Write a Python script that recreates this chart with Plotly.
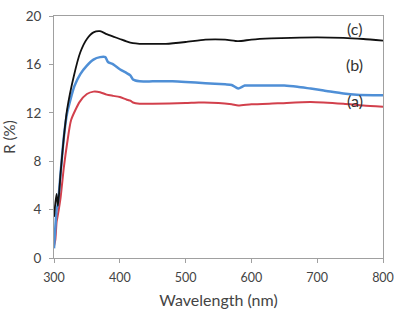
import plotly.graph_objects as go

wl_c = [300, 302, 304, 306, 310, 315, 320, 330, 340, 350, 360, 370, 380, 390, 400, 410, 420, 430, 450,
        470, 500, 530, 560, 580, 600, 630, 660, 700, 740, 770, 800]
r_c = [3.4, 4.5, 5.3, 4.3, 7.0, 10.0, 12.3, 15.0, 17.0, 18.1, 18.65, 18.75, 18.5, 18.3, 18.1, 17.9, 17.75,
       17.7, 17.7, 17.7, 17.85, 18.05, 18.05, 17.92, 18.05, 18.15, 18.2, 18.24, 18.2, 18.1, 17.96]

wl_b = [300, 302, 304, 306, 310, 315, 320, 331, 340, 350, 360, 370, 378, 382, 390, 400, 410, 416, 420,
        430, 450, 480, 500, 530, 560, 570, 580, 590, 600, 650, 670, 690, 710, 740, 760, 800]
r_b = [0.8, 2.5, 4.0, 4.5, 7.0, 10.0, 12.0, 14.2, 15.2, 15.9, 16.4, 16.6, 16.6, 16.2, 16.0, 15.6, 15.3,
       15.1, 14.75, 14.6, 14.6, 14.6, 14.55, 14.45, 14.35, 14.3, 14.0, 14.25, 14.25, 14.25, 14.15, 14.0,
       13.85, 13.6, 13.5, 13.45]

wl_a = [300, 302, 304, 306, 310, 315, 320, 326, 339, 350, 360, 370, 380, 390, 400, 410, 416, 420, 430,
        450, 500, 520, 550, 570, 580, 600, 640, 690, 740, 770, 800]
r_a = [1.0, 1.5, 3.0, 3.6, 5.0, 7.5, 9.5, 11.4, 12.9, 13.55, 13.75, 13.7, 13.5, 13.4, 13.3, 13.1, 13.0,
       12.85, 12.75, 12.75, 12.8, 12.85, 12.82, 12.7, 12.6, 12.7, 12.78, 12.9, 12.75, 12.6, 12.5]

labels = ["(c)", "(b)", "(a)"]
label_y = [18.95, 16.0, 13.0]

fig = go.Figure()
fig.add_trace(go.Scatter(x=wl_a, y=r_a, mode="lines", line=dict(color="#d2404c", width=2, shape="spline", smoothing=0.6), showlegend=False))
fig.add_trace(go.Scatter(x=wl_b, y=r_b, mode="lines", line=dict(color="#4f8fd6", width=2.5, shape="spline", smoothing=0.6), showlegend=False))
fig.add_trace(go.Scatter(x=wl_c, y=r_c, mode="lines", line=dict(color="#111111", width=1.8, shape="spline", smoothing=0.6), showlegend=False))

for t, yv in zip(labels, label_y):
    fig.add_annotation(x=757, y=yv, text=t, showarrow=False, xanchor="center", yanchor="middle",
                       font=dict(family="Lato", size=16, color="#333333"))

fig.update_layout(
    width=394, height=317,
    margin=dict(l=54, r=11, t=16, b=59),
    paper_bgcolor="white", plot_bgcolor="white",
    font=dict(family="Lato", size=13, color="#444444"),
)
fig.update_xaxes(range=[300, 800], tickvals=[300, 400, 500, 600, 700, 800], automargin=False,
                 showgrid=False, zeroline=False, showline=True, linecolor="#a0a0a0", linewidth=1,
                 mirror=True, ticks="outside", ticklen=4, tickcolor="#a0a0a0", ticklabelstandoff=4,
                 title=dict(text="Wavelength (nm)", font=dict(size=16, color="#444444"), standoff=10),
                 tickfont=dict(size=12.5))
fig.update_yaxes(range=[0, 20], tickvals=[0, 4, 8, 12, 16, 20], automargin=False,
                 showgrid=False, zeroline=False, showline=True, linecolor="#a0a0a0", linewidth=1,
                 mirror=True, ticks="outside", ticklen=4, tickcolor="#a0a0a0", ticklabelstandoff=5,
                 title=dict(text="R (%)", font=dict(size=15, color="#444444"), standoff=10),
                 tickfont=dict(size=13.5))

fig.write_html("out.html")
